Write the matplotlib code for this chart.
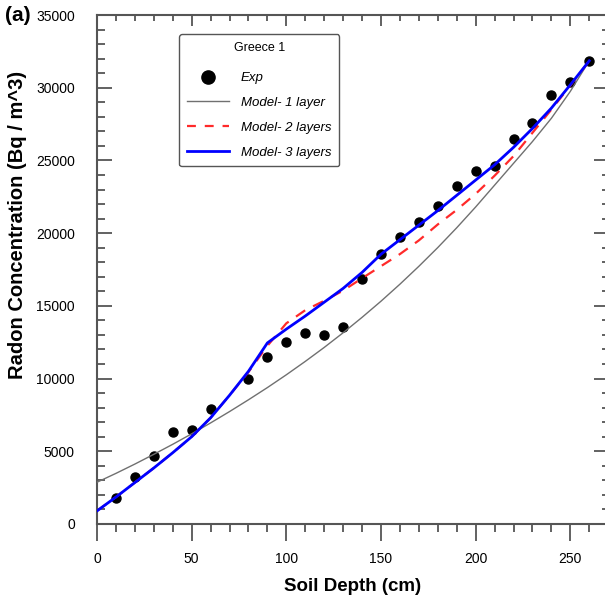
import matplotlib
matplotlib.use('Agg')
import matplotlib.pyplot as plt
from matplotlib.lines import Line2D

plt.rcParams['font.family'] = ['Liberation Sans', 'DejaVu Sans']

# measured points
exp_depth = [10, 20, 30, 40, 50, 60, 80, 90, 100, 110, 120, 130, 140, 150,
             160, 170, 180, 190, 200, 210, 220, 230, 240, 250, 260]
exp_radon = [1800, 3250, 4700, 6300, 6450, 7900, 10000, 11450, 12500, 13100,
             13000, 13550, 16850, 18600, 19750, 20750, 21850, 23250, 24300,
             24650, 26500, 27550, 29500, 30400, 31850]

# model curves, read every 10 cm
model_depth = [0, 10, 20, 30, 40, 50, 60, 70, 80, 90, 100, 110, 120, 130, 140,
               150, 160, 170, 180, 190, 200, 210, 220, 230, 240, 250, 260]
model_1layer = [2870, 3480, 4120, 4790, 5480, 6200, 6950, 7730, 8540, 9380,
                10260, 11180, 12140, 13150, 14210, 15320, 16490, 17720, 19010,
                20370, 21800, 23300, 24800, 26300, 27900, 29750, 31850]
model_2layer = [900, 1850, 2850, 3850, 4900, 6000, 7300, 8850, 10450, 12250,
                13800, 14700, 15350, 16050, 16900, 17730, 18560, 19500, 20600,
                21600, 22700, 23950, 25300, 26900, 28500, 30150, 31850]
model_3layer = [900, 1850, 2850, 3850, 4900, 6000, 7300, 8850, 10500, 12450,
                13400, 14300, 15250, 16200, 17300, 18550, 19550, 20550, 21550,
                22600, 23650, 24700, 25900, 27200, 28600, 30200, 31850]

x_ticks = [0, 50, 100, 150, 200, 250]
y_ticks = [0, 5000, 10000, 15000, 20000, 25000, 30000, 35000]

fig = plt.figure(figsize=(6.05, 6.05), dpi=100)
ax = fig.add_axes([0.1603, 0.1339, 0.845, 0.8413])

ax.plot(exp_depth, exp_radon, 'o', color='black', ms=6.5, zorder=2)
ax.plot(model_depth, model_1layer, color='#707070', lw=1.0, zorder=3)
ax.plot(model_depth, model_2layer, color='#ff2a2a', lw=1.6, ls=(0, (5, 4)), zorder=3)
ax.plot(model_depth, model_3layer, color='#0000ff', lw=2.0, zorder=4)

ax.set_xlim(0, 270)
ax.set_ylim(0, 35000)
ax.set_xticks(x_ticks)
ax.set_yticks(y_ticks)
ax.set_xticks(range(0, 271, 10), minor=True)
ax.set_yticks(range(0, 35001, 1000), minor=True)

spine_col = '#555555'
for s in ax.spines.values():
    s.set_color(spine_col)
    s.set_linewidth(1.5)

ax.tick_params(axis='x', which='major', direction='out', length=12, width=1.3,
               color=spine_col, pad=8, labelsize=10)
ax.tick_params(axis='x', which='minor', direction='out', length=6, width=1.3,
               color=spine_col)
ax.tick_params(axis='y', which='major', direction='in', length=11, width=1.3,
               color=spine_col, pad=16, labelsize=10)
ax.tick_params(axis='y', which='minor', direction='in', length=6, width=1.3,
               color=spine_col)

# ticks on top and right point inward, no labels
top = ax.secondary_xaxis('top')
top.set_xticks(x_ticks)
top.set_xticks(range(0, 271, 10), minor=True)
top.tick_params(which='major', direction='in', length=8, width=1.3, color=spine_col,
                labeltop=False)
top.tick_params(which='minor', direction='in', length=4, width=1.3, color=spine_col)
right = ax.secondary_yaxis('right')
right.set_yticks(y_ticks)
right.set_yticks(range(0, 35001, 1000), minor=True)
right.tick_params(which='major', direction='in', length=10, width=1.3, color=spine_col,
                  labelright=False)
right.tick_params(which='minor', direction='in', length=4, width=1.3, color=spine_col)
for sec in (top, right):
    for s in sec.spines.values():
        s.set_visible(False)

ax.set_xlabel('Soil Depth (cm)', fontsize=13.5, fontweight='bold', labelpad=9)
ax.set_ylabel('Radon Concentration (Bq / m^3)', fontsize=14.5, fontweight='bold')
ax.yaxis.set_label_coords(-0.137, 0.587)

fig.text(0.008, 0.975, '(a)', fontsize=15, fontweight='bold', va='center', ha='left')

handles = [
    Line2D([], [], marker='o', ls='none', color='black', ms=9.5),
    Line2D([], [], color='#707070', lw=1.0),
    Line2D([], [], color='#ff2a2a', lw=1.6, ls=(0, (4, 4))),
    Line2D([], [], color='#0000ff', lw=2.0),
]
labels = ['Exp', 'Model- 1 layer', 'Model- 2 layers', 'Model- 3 layers']
leg = ax.legend(handles, labels, title='Greece 1', loc='upper left',
                bbox_to_anchor=(179 / 605, 1 - 34 / 605),
                bbox_transform=fig.transFigure, borderaxespad=0,
                prop={'size': 9.5, 'style': 'italic'}, title_fontsize=9,
                labelspacing=0.95, handlelength=3.2, handletextpad=0.9,
                borderpad=0.6, fancybox=True, framealpha=1, edgecolor='#555555')
leg.get_frame().set_linewidth(1.0)
# a bit more room between the title and the first entry
leg._legend_box.sep = 13

fig.savefig('out.png', dpi=100)
